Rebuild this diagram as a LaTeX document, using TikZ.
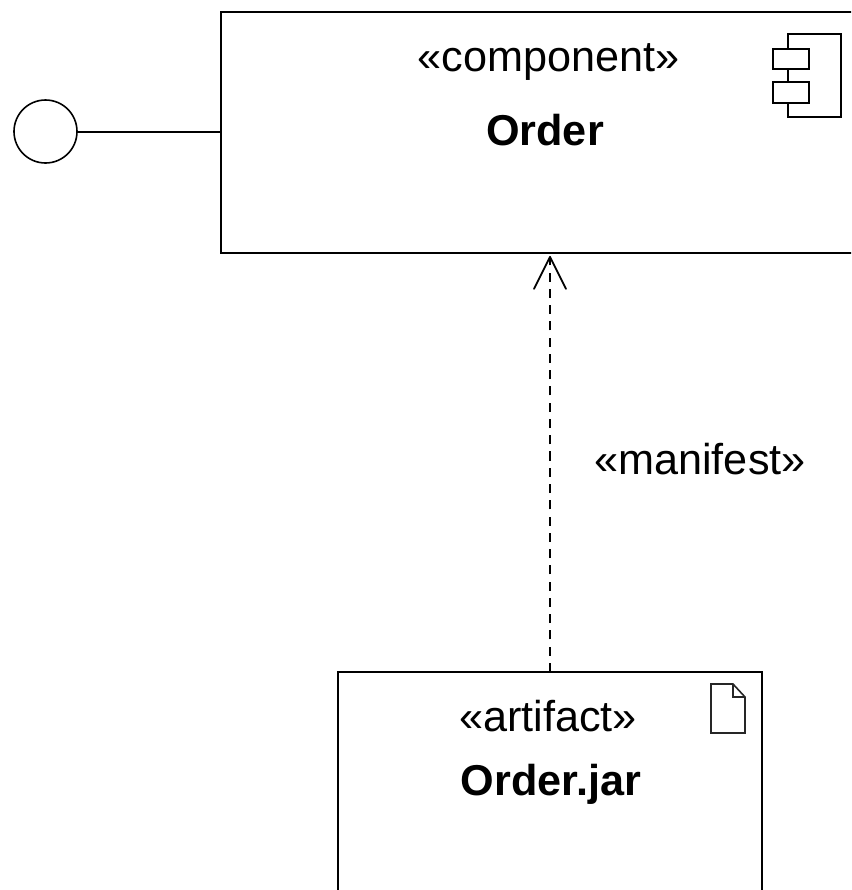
\documentclass[tikz,border=0pt]{standalone}
\usepackage{fontspec}
\setmainfont{Liberation Sans}
\usetikzlibrary{arrows.meta}
\tikzset{
  box/.style={draw=black,line width=1.7pt,fill=white,inner sep=0pt,outer sep=0pt},
  lollipop/.style={draw=black,line width=1.2pt,fill=white,circle,inner sep=0pt,outer sep=0pt,minimum size=47.25pt},
  wire/.style={draw=black,line width=1.5pt},
  icon/.style={draw=black,line width=1.5pt,line join=miter},
  iconpart/.style={icon,fill=white},
  docicon/.style={draw=black!85,line width=1.2pt,line join=miter},
  depend/.style={draw=black,line width=1.3pt,dash pattern=on 6.8pt off 5.4pt,
    -{Straight Barb[length=24pt,width=24pt,line width=1.4pt,round]},shorten >=2.2pt},
  lab/.style={font=\fontsize{32.4pt}{36pt}\selectfont,anchor=base,inner sep=0pt,text=black},
  labb/.style={lab,font=\fontsize{32.4pt}{36pt}\selectfont\bfseries}
}
\begin{document}
\begin{tikzpicture}[x=0.75pt,y=-0.75pt]
\clip (0,0) rectangle (851,890);
\fill[white] (0,0) rectangle (851,890);
% component box: extends past the right edge of the picture
\node[box,minimum width=493.5pt,minimum height=180.75pt] (comp) at (550,132.5) {};
% artifact box: extends past the bottom edge
\node[box,minimum width=318pt,minimum height=252pt] (art) at (550,840) {};
\node[lollipop] (circ) at (45.5,131.5) {};
\draw[wire] (circ.east) -- (comp.west |- circ.east);
\draw[depend] (art.north) -- (comp.south);
\node[lab] (tcomp) at (548.5,71.5) {«component»};
\node[labb] (torder) at (545,145) {Order};
\node[lab] (tman) at (700,474.5) {«manifest»};
\node[lab] (tart) at (548,731.5) {«artifact»};
\node[labb] (tjar) at (551,795.5) {Order.jar};
% component icon
\draw[icon] (788,49) -- (788,34) -- (841,34) -- (841,117) -- (788,117) -- (788,103);
\draw[icon] (788,69) -- (788,82);
\draw[iconpart] (773,49) rectangle (809,69);
\draw[iconpart] (773,82) rectangle (809,103);
% document icon
\draw[docicon] (711,684) -- (733,684) -- (745,697) -- (745,733) -- (711,733) -- cycle;
\draw[docicon] (733,684) -- (733,697) -- (745,697);
\end{tikzpicture}
\end{document}
